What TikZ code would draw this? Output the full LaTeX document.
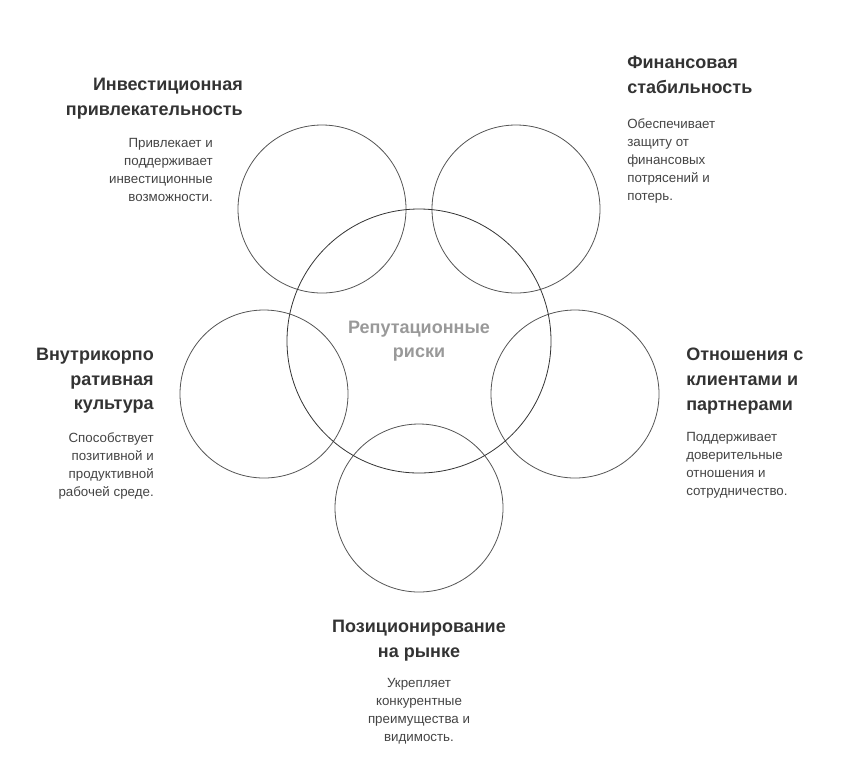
\documentclass[tikz,border=0pt]{standalone}
\usepackage{fontspec}
\setmainfont{Liberation Sans}
\definecolor{ttl}{HTML}{333333}
\definecolor{dsc}{HTML}{444444}
\definecolor{ln}{HTML}{555555}
\begin{document}
\begin{tikzpicture}[x=0.75pt,y=-0.75pt,
  circ/.style={draw=ln,line width=0.6pt},
  ttlR/.style={anchor=north east,align=right,text=ttl,font=\fontsize{13.5}{18.5}\selectfont\bfseries,inner sep=0},
  ttlL/.style={anchor=north west,align=left,text=ttl,font=\fontsize{13.5}{18.5}\selectfont\bfseries,inner sep=0},
  ttlC/.style={anchor=north,align=center,text=ttl,font=\fontsize{13.5}{18.5}\selectfont\bfseries,inner sep=0},
  dR/.style={anchor=north east,align=right,text=dsc,font=\fontsize{10}{13.5}\selectfont,inner sep=0},
  dL/.style={anchor=north west,align=left,text=dsc,font=\fontsize{10}{13.5}\selectfont,inner sep=0},
  dC/.style={anchor=north,align=center,text=dsc,font=\fontsize{10}{13.5}\selectfont,inner sep=0}]
\useasboundingbox (0,0) rectangle (845,765);
\node[circ,circle,minimum size=168*0.75pt] (tl) at (322,209) {};
\node[circ,circle,minimum size=168*0.75pt] (tr) at (516,209) {};
\node[circ,circle,minimum size=168*0.75pt] (l) at (264,394) {};
\node[circ,circle,minimum size=168*0.75pt] (r) at (575,394) {};
\node[circ,circle,minimum size=168*0.75pt] (b) at (419,508) {};
\node[circ,circle,minimum size=264*0.75pt,draw=ttl] (c) at (419,341) {};
\node[align=center,text=black!40,font=\fontsize{13.5}{18.5}\selectfont\bfseries] (ct) at (419,341) {Репутационные\\риски};
\node[ttlR] (t1) at (243,78) {Инвестиционная\\привлекательность};
\node[dR] (d1) at (213,138) {Привлекает и\\поддерживает\\инвестиционные\\возможности.};
\node[ttlL] (t2) at (627,56) {Финансовая\\стабильность};
\node[dL] (d2) at (627,118) {Обеспечивает\\защиту от\\финансовых\\потрясений и\\потерь.};
\node[ttlR] (t3) at (154,348) {Внутрикорпо\\ративная\\культура};
\node[dR] (d3) at (154,432) {Способствует\\позитивной и\\продуктивной\\рабочей среде.};
\node[ttlL] (t4) at (686,348) {Отношения с\\клиентами и\\партнерами};
\node[dL] (d4) at (686,432) {Поддерживает\\доверительные\\отношения и\\сотрудничество.};
\node[ttlC] (t5) at (419,620) {Позиционирование\\на рынке};
\node[dC] (d5) at (419,678) {Укрепляет\\конкурентные\\преимущества и\\видимость.};
\end{tikzpicture}
\end{document}
